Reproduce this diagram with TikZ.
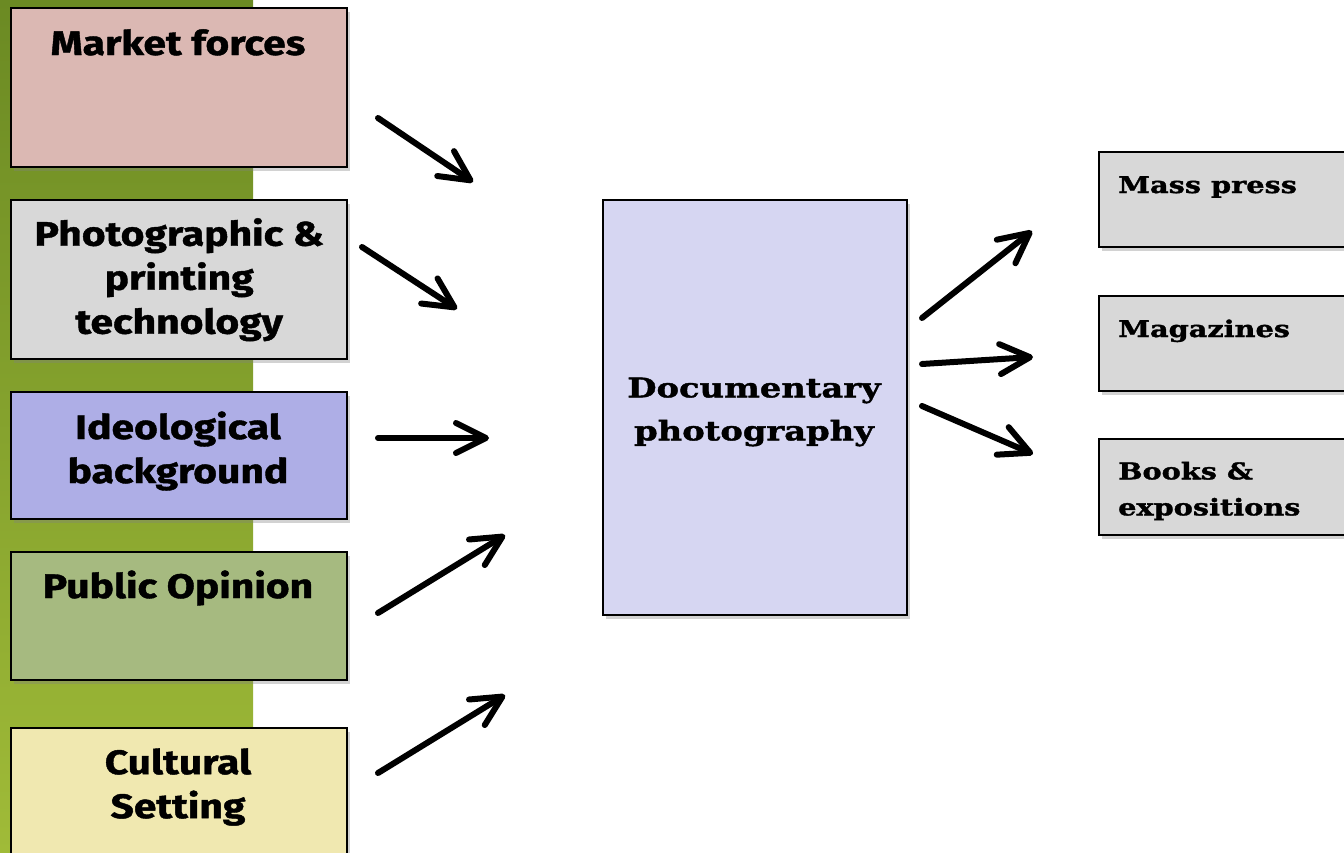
\documentclass[tikz,border=0pt]{standalone}
\usepackage{fontspec}
\usetikzlibrary{arrows.meta,shadows,calc}
\newfontfamily\gillfont{Fira Sans}[FakeStretch=1.2, FakeBold=1.2]
\newfontfamily\typefont{DejaVu Serif}[FakeStretch=1.25, FakeBold=1.5]
\definecolor{stripTop}{RGB}{107,138,35}
\definecolor{stripBot}{RGB}{160,187,56}
\definecolor{pinkbox}{RGB}{219,184,179}
\definecolor{graybox}{RGB}{216,216,216}
\definecolor{lavbox}{RGB}{174,174,230}
\definecolor{greenbox}{RGB}{166,186,128}
\definecolor{yellowbox}{RGB}{240,232,176}
\definecolor{centerbox}{RGB}{214,214,242}
\tikzset{
  box/.style={draw=black, line width=2.4pt, inner sep=0pt, anchor=north west,
    drop shadow={shadow xshift=3pt, shadow yshift=-4pt, opacity=0.35}},
  lefttxt/.style={font=\gillfont\bfseries\fontsize{34}{44}\selectfont, align=center, inner sep=0pt},
  righttxt/.style={font=\typefont\bfseries\fontsize{23}{36}\selectfont, align=left, inner sep=0pt},
  centertxt/.style={font=\typefont\bfseries\fontsize{27}{43}\selectfont, align=center, inner sep=0pt},
  arr/.style={line width=6pt, line cap=round, -{Straight Barb[round, length=30pt, width=30pt]}},
}
\begin{document}
\begin{tikzpicture}[x=1pt,y=-1pt]
\clip (0,0) rectangle (1344,852);
\fill[white] (0,0) rectangle (1344,852);
\shade[top color=stripTop, bottom color=stripBot] (0,0) rectangle (253,852);

% left boxes
\node[box, fill=pinkbox, minimum width=336pt, minimum height=159pt] (mf) at (10,7) {};
\node[box, fill=graybox, minimum width=336pt, minimum height=159pt] (pt) at (10,199) {};
\node[box, fill=lavbox, minimum width=336pt, minimum height=127pt] (ib) at (10,391) {};
\node[box, fill=greenbox, minimum width=336pt, minimum height=128pt] (po) at (10,551) {};
\node[box, fill=yellowbox, minimum width=336pt, minimum height=140pt] (cs) at (10,727) {};

\node[lefttxt, anchor=base] (mft) at (178,55) {Market forces};
\node[lefttxt] (ptt) at (pt.center) {Photographic \&\\printing\\technology};
\node[lefttxt] (ibt) at (178,451) {Ideological\\background};
\node[lefttxt, anchor=base] (pot) at (178,598) {Public Opinion};
\node[lefttxt] (cst) at (178,787) {Cultural\\Setting};

% center box
\node[box, fill=centerbox, minimum width=304pt, minimum height=415pt] (dp) at (602,199) {};
\node[centertxt] (dpt) at (754,412) {Documentary\\photography};

% right boxes
\node[box, fill=graybox, minimum width=270pt, minimum height=95pt] (mp) at (1098,151) {};
\node[box, fill=graybox, minimum width=270pt, minimum height=95pt] (mg) at (1098,295) {};
\node[box, fill=graybox, minimum width=270pt, minimum height=96pt] (be) at (1098,438) {};
\node[righttxt, anchor=base west] (mpt) at (1118,193) {Mass press};
\node[righttxt, anchor=base west] (mgt) at (1118,337) {Magazines};
\node[righttxt, anchor=west] (bet) at (1118,491) {Books \&\\expositions};

% arrow end points
\coordinate (a1s) at (378,118); \coordinate (a1e) at (473,182);
\coordinate (a2s) at (362,247); \coordinate (a2e) at (457,309);
\coordinate (a3s) at (378,438); \coordinate (a3e) at (489,438);
\coordinate (a4s) at (378,613); \coordinate (a4e) at (505,535);
\coordinate (a5s) at (378,773); \coordinate (a5e) at (505,695);
\coordinate (b1s) at (922,318); \coordinate (b1e) at (1032,231);
\coordinate (b2s) at (922,364); \coordinate (b2e) at (1033,357);
\coordinate (b3s) at (922,406); \coordinate (b3e) at (1033,454);

\draw[arr] (a1s) -- (a1e);
\draw[arr] (a2s) -- (a2e);
\draw[arr] (a3s) -- (a3e);
\draw[arr] (a4s) -- (a4e);
\draw[arr] (a5s) -- (a5e);
\draw[arr] (b1s) -- (b1e);
\draw[arr] (b2s) -- (b2e);
\draw[arr] (b3s) -- (b3e);
\end{tikzpicture}
\end{document}
